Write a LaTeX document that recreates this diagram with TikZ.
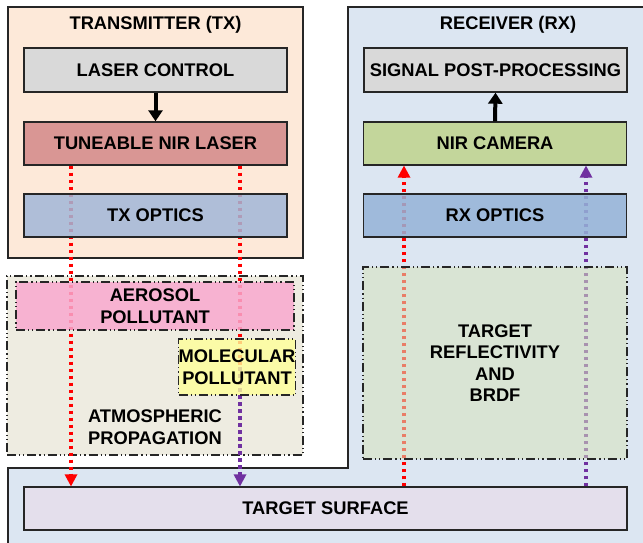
\documentclass[tikz,border=0pt]{standalone}
\usepackage{fontspec}
\setmainfont{Liberation Sans}
\usetikzlibrary{arrows.meta,calc}
\definecolor{txbg}{HTML}{FDE9D9}
\definecolor{rxbg}{HTML}{DCE6F2}
\definecolor{grayb}{HTML}{D9D9D9}
\definecolor{laserc}{HTML}{D99694}
\definecolor{txopt}{HTML}{A2B7D8}
\definecolor{rxopt}{HTML}{95B3D7}
\definecolor{camc}{HTML}{C3D69B}
\definecolor{atmc}{HTML}{EEECE1}
\definecolor{refc}{HTML}{D7E4BD}
\definecolor{aerc}{HTML}{F9A8CF}
\definecolor{molc}{HTML}{FFFF99}
\definecolor{tgtc}{HTML}{E4DFEC}
\definecolor{edge}{HTML}{262626}
\definecolor{beamred}{HTML}{FF0000}
\definecolor{beampur}{HTML}{7030A0}
\tikzset{
  lbl/.style={font=\bfseries\fontsize{18.3}{21.5}\selectfont, align=center, text=black},
  blk/.style={lbl, draw=edge, line width=1.4pt, inner sep=0pt},
  dd/.style={draw=edge, line width=1.3pt, dash pattern=on 9pt off 3pt on 1.2pt off 3pt on 1.2pt off 3pt},
  beam/.style={line width=3.2pt, dash pattern=on 3.5pt off 3.5pt},
  ctl/.style={line width=4pt, -{Triangle[width=14pt,length=11pt]}},
}
\begin{document}
\begin{tikzpicture}[x=1pt,y=-1pt]
\useasboundingbox (0,0) rectangle (643,543);
\fill[white] (0,0) rectangle (643,543);
% regions
\draw[fill=txbg, draw=edge, line width=1.4pt] (8,7) rectangle (303,258);
\fill[rxbg] (660,7) -- (348,7) -- (348,468) -- (8,468) -- (8,560) -- (660,560) -- cycle;
\draw[draw=edge, line width=1.4pt] (660,7) -- (348,7) -- (348,468) -- (8,468) -- (8,560);
\node[lbl] (txt) at (155.5,25) {TRANSMITTER (TX)};
\node[lbl] (rxt) at (508,25) {RECEIVER (RX)};
% atmospheric box
\node[lbl, dd, fill=atmc, minimum width=296pt, minimum height=179pt, inner sep=0pt] (atm) at (155,365.5) {};
\node[lbl] (atmt) at (155,427) {ATMOSPHERIC\\PROPAGATION};
% blocks
\node[blk, fill=grayb, minimum width=263pt, minimum height=44pt] (ctrl) at (155.5,70) {LASER CONTROL};
\node[blk, fill=laserc, minimum width=263pt, minimum height=43pt] (laser) at (155.5,143.5) {TUNEABLE NIR LASER};
\node[blk, fill=grayb, minimum width=263pt, minimum height=44pt] (spp) at (495.5,70) {SIGNAL POST-PROCESSING};
\node[blk, fill=camc, minimum width=263pt, minimum height=43pt] (cam) at (495,143.5) {NIR CAMERA};
\node[blk, fill=tgtc, minimum width=603pt, minimum height=43pt] (tgt) at (325.5,508.5) {TARGET SURFACE};
% beam positions
\coordinate (xa) at (71,0);
\coordinate (xb) at (240,0);
\coordinate (xc) at (404,0);
\coordinate (xd) at (586,0);
\coordinate (xm) at (240,367);
% control arrows
\draw[ctl] (ctrl.south) -- (laser.north);
\draw[ctl] (cam.north) -- (spp.south);
% beams
\draw[beam, beamred] (laser.south -| xa) -- ($(tgt.north -| xa)+(0,-11)$);
\fill[beamred] ($(tgt.north -| xa)+(-6.5,-12)$) -- ($(tgt.north -| xa)+(6.5,-12)$) -- (tgt.north -| xa) -- cycle;
\draw[beam, beamred] (laser.south -| xb) -- (xm);
\draw[beam, beampur] (xm) -- ($(tgt.north -| xb)+(0,-11)$);
\fill[beampur] ($(tgt.north -| xb)+(-6.5,-12)$) -- ($(tgt.north -| xb)+(6.5,-12)$) -- (tgt.north -| xb) -- cycle;
\draw[beam, beamred] (tgt.north -| xc) -- ($(cam.south -| xc)+(0,11)$);
\fill[beamred] ($(cam.south -| xc)+(-6.5,12)$) -- ($(cam.south -| xc)+(6.5,12)$) -- (cam.south -| xc) -- cycle;
\draw[beam, beampur] (tgt.north -| xd) -- ($(cam.south -| xd)+(0,11)$);
\fill[beampur] ($(cam.south -| xd)+(-6.5,12)$) -- ($(cam.south -| xd)+(6.5,12)$) -- (cam.south -| xd) -- cycle;
% translucent boxes over beams
\node[blk, fill=txopt, fill opacity=0.85, text opacity=1, minimum width=263pt, minimum height=43pt] (txo) at (155.5,215.5) {TX OPTICS};
\node[blk, fill=rxopt, fill opacity=0.85, text opacity=1, minimum width=263pt, minimum height=43pt] (rxo) at (495,215.5) {RX OPTICS};
\node[lbl, dd, fill=refc, fill opacity=0.55, text opacity=1, minimum width=264pt, minimum height=192pt, inner sep=0pt] (refl) at (495,363) {TARGET\\REFLECTIVITY\\AND\\BRDF};
\node[lbl, dd, fill=aerc, fill opacity=0.85, text opacity=1, minimum width=278pt, minimum height=48pt, inner sep=0pt] (aer) at (155,306) {AEROSOL\\POLLUTANT};
\node[lbl, dd, fill=molc, fill opacity=0.8, text opacity=1, minimum width=114pt, minimum height=56pt, inner sep=0pt] (mol) at (237,367) {MOLECULAR\\POLLUTANT};
\end{tikzpicture}
\end{document}
